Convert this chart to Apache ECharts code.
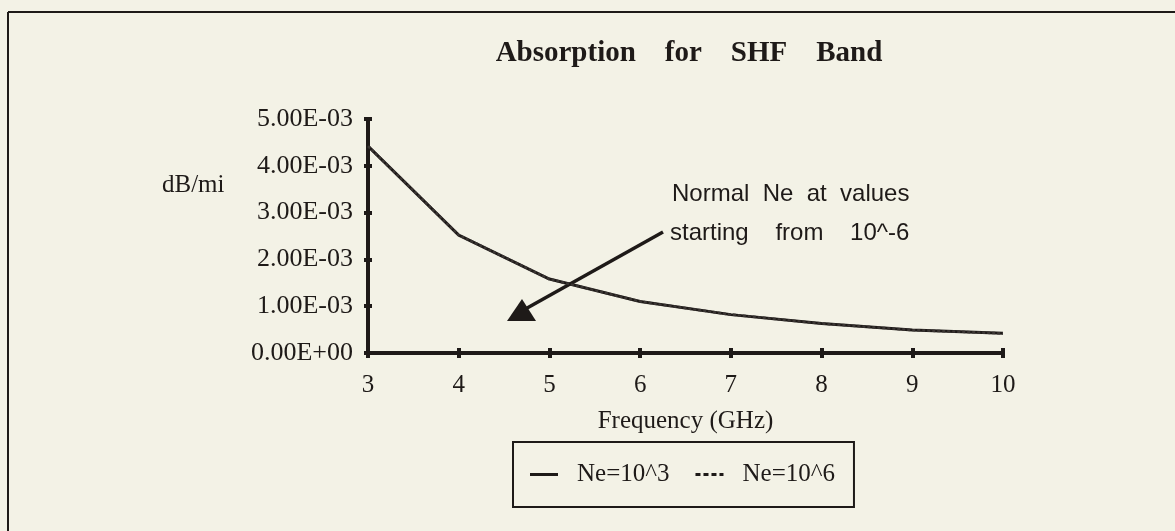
<!DOCTYPE html>
<html>
<head>
<meta charset="utf-8">
<script src="https://cdn.jsdelivr.net/npm/echarts@6/dist/echarts.min.js"></script>
<style>
html,body{margin:0;padding:0;background:#f3f2e6;}
#chart{width:1175px;height:531px;}
</style>
</head>
<body>
<div id="chart"></div>
<script>
const frequencies = [3, 4, 5, 6, 7, 8, 9, 10];
const absorptionNe3 = [0.00442, 0.00252, 0.00158, 0.00110, 0.00082, 0.00063, 0.00049, 0.00042];
const absorptionNe6 = [0.00442, 0.00252, 0.00158, 0.00110, 0.00082, 0.00063, 0.00049, 0.00042];
const yTickLabels = ['0.00E+00', '1.00E-03', '2.00E-03', '3.00E-03', '4.00E-03', '5.00E-03'];
const seriesNames = ['Ne=10^3', 'Ne=10^6'];

const chart = echarts.init(document.getElementById('chart'), null, {renderer: 'canvas'});
const serif = 'Liberation Serif';
const ink = '#1e1a18';

const tickStyle = {color: ink, width: 4};
const solidIcon = 'path://M0,0h28v3h-28z';
const dashIcon = 'path://M0,0h5v3h-5z M8,0h5v3h-5z M16,0h5v3h-5z M24,0h4v3h-4z';

chart.setOption({
  backgroundColor: '#f3f2e6',
  animation: false,
  title: {
    text: 'Absorption    for    SHF    Band',
    left: 684, textAlign: 'center', top: 34,
    textStyle: {fontFamily: serif, fontWeight: 'bold', fontSize: 29, color: ink}
  },
  grid: {left: 368, right: 172, top: 119, bottom: 178},
  xAxis: [{
    type: 'value', min: 3, max: 10, interval: 1, position: 'bottom',
    name: 'Frequency (GHz)', nameLocation: 'middle', nameGap: 56,
    nameTextStyle: {fontFamily: serif, fontSize: 25, color: ink},
    axisLine: {lineStyle: {color: ink, width: 4}},
    axisTick: {show: true, length: 5, lineStyle: tickStyle},
    axisLabel: {fontFamily: serif, fontSize: 25, color: ink, margin: 20},
    splitLine: {show: false}
  }, {
    type: 'value', min: 3, max: 10, interval: 1, position: 'bottom', offset: 0,
    axisLine: {show: false},
    axisTick: {show: true, inside: true, length: 5, lineStyle: tickStyle},
    axisLabel: {show: false},
    splitLine: {show: false}
  }],
  yAxis: [{
    type: 'value', min: 0, max: 0.005, interval: 0.001, position: 'left',
    axisLine: {show: true, lineStyle: {color: ink, width: 4}},
    axisTick: {show: true, length: 4, lineStyle: tickStyle},
    axisLabel: {
      fontFamily: serif, fontSize: 26, color: ink, margin: 15,
      formatter: function (v) { return yTickLabels[Math.round(v / 0.001)]; }
    },
    splitLine: {show: false}
  }, {
    type: 'value', min: 0, max: 0.005, interval: 0.001, position: 'left', offset: 0,
    axisLine: {show: false},
    axisTick: {show: true, inside: true, length: 4, lineStyle: tickStyle},
    axisLabel: {show: false},
    splitLine: {show: false}
  }],
  legend: {
    left: 513, top: 442,
    padding: [20, 19, 20, 17],
    borderColor: ink, borderWidth: 2,
    itemWidth: 28, itemHeight: 3, itemGap: 26,
    textStyle: {fontFamily: serif, fontSize: 25, color: ink, padding: [0, 0, 0, 14]},
    data: [
      {name: seriesNames[0], icon: solidIcon, itemStyle: {color: ink}},
      {name: seriesNames[1], icon: dashIcon, itemStyle: {color: ink}}
    ]
  },
  series: [
    {
      name: seriesNames[0], type: 'line', symbol: 'none',
      data: frequencies.map((f, i) => [f, absorptionNe3[i]]),
      lineStyle: {color: ink, width: 3}, itemStyle: {color: ink}
    },
    {
      name: seriesNames[1], type: 'line', symbol: 'none',
      data: frequencies.map((f, i) => [f, absorptionNe6[i]]),
      lineStyle: {color: '#3a3533', width: 2.5, type: [3, 2]}, itemStyle: {color: ink}
    }
  ],
  graphic: [
    {type: 'line', shape: {x1: 8, y1: 12, x2: 1175, y2: 12}, style: {stroke: ink, lineWidth: 2}},
    {type: 'line', shape: {x1: 8, y1: 12, x2: 8, y2: 531}, style: {stroke: ink, lineWidth: 2}},
    {type: 'text', left: 162, top: 173, style: {text: 'dB/mi', font: '25px "Liberation Serif"', fill: ink}},
    {type: 'text', left: 672, top: 182, style: {text: 'Normal  Ne  at  values', font: '24px "Liberation Sans"', fill: ink}},
    {type: 'text', left: 670, top: 221, style: {text: 'starting    from    10^-6', font: '24px "Liberation Sans"', fill: ink}},
    {type: 'line', shape: {x1: 663, y1: 232, x2: 520, y2: 312}, style: {stroke: ink, lineWidth: 3.5}},
    {type: 'polygon', shape: {points: [[522, 299], [507, 321], [536, 321]]}, style: {fill: ink}}
  ]
});
</script>
</body>
</html>
